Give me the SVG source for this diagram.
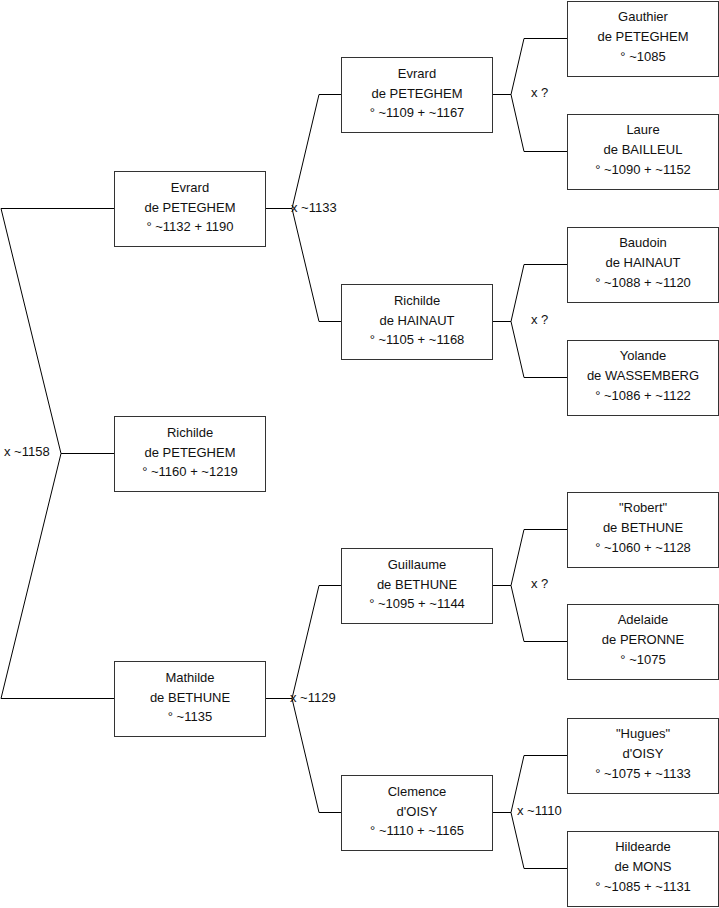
<svg xmlns="http://www.w3.org/2000/svg" width="719" height="908" viewBox="0 0 719 908">
<style>
.box{fill:#fff;stroke:#333;stroke-width:1}
.t{font-family:"Liberation Sans",Arial,sans-serif;font-size:13px;fill:#111;text-anchor:middle}
.l{font-family:"Liberation Sans",Arial,sans-serif;font-size:13px;fill:#111}
.c{fill:none;stroke:#000;stroke-width:1}
</style>
<rect width="719" height="908" fill="#fff"/>
<g id="connectors">
<polyline class="c" points="114,208.5 1,208.5 61,453.5 1,698.5 114,698.5"/>
<line class="c" x1="61" y1="453.5" x2="114" y2="453.5"/>
<polyline class="c" points="265,208.5 292,208.5"/>
<polyline class="c" points="341,94.5 319,94.5 292,208.5 319,321.5 341,321.5"/>
<polyline class="c" points="265,698.5 292,698.5"/>
<polyline class="c" points="341,585.5 319,585.5 292,698.5 319,812.5 341,812.5"/>
<polyline class="c" points="492,94.5 511,94.5"/>
<polyline class="c" points="567,38.5 524,38.5 511,94.5 524,151.5 567,151.5"/>
<polyline class="c" points="492,321.5 511,321.5"/>
<polyline class="c" points="567,264.5 524,264.5 511,321.5 524,377.5 567,377.5"/>
<polyline class="c" points="492,585.5 511,585.5"/>
<polyline class="c" points="567,529.5 524,529.5 511,585.5 524,641.5 567,641.5"/>
<polyline class="c" points="492,812.5 511,812.5"/>
<polyline class="c" points="567,755.5 524,755.5 511,812.5 524,868.5 567,868.5"/>
<text class="l" x="4" y="456">x ~1158</text>
<text class="l" x="291" y="212">x ~1133</text>
<text class="l" x="290" y="702">x ~1129</text>
<text class="l" x="531" y="97">x ?</text>
<text class="l" x="531" y="324">x ?</text>
<text class="l" x="531" y="588">x ?</text>
<text class="l" x="517" y="815">x ~1110</text>
</g>
<g id="n-evrard1">
<rect class="box" x="114.5" y="171.5" width="151" height="75"/>
<text class="t" x="190" y="191.5">Evrard</text><text class="t" x="190" y="211.5">de PETEGHEM</text><text class="t" x="190" y="230.5">° ~1132 + 1190</text>
</g>
<g id="n-richilde1">
<rect class="box" x="114.5" y="416.5" width="151" height="75"/>
<text class="t" x="190" y="436.5">Richilde</text><text class="t" x="190" y="456.5">de PETEGHEM</text><text class="t" x="190" y="475.5">° ~1160 + ~1219</text>
</g>
<g id="n-mathilde">
<rect class="box" x="114.5" y="661.5" width="151" height="75"/>
<text class="t" x="190" y="681.5">Mathilde</text><text class="t" x="190" y="701.5">de BETHUNE</text><text class="t" x="190" y="720.5">° ~1135</text>
</g>
<g id="n-evrard2">
<rect class="box" x="341.5" y="57.5" width="151" height="75"/>
<text class="t" x="417" y="77.5">Evrard</text><text class="t" x="417" y="97.5">de PETEGHEM</text><text class="t" x="417" y="116.5">° ~1109 + ~1167</text>
</g>
<g id="n-richilde2">
<rect class="box" x="341.5" y="284.5" width="151" height="75"/>
<text class="t" x="417" y="304.5">Richilde</text><text class="t" x="417" y="324.5">de HAINAUT</text><text class="t" x="417" y="343.5">° ~1105 + ~1168</text>
</g>
<g id="n-guillaume">
<rect class="box" x="341.5" y="548.5" width="151" height="75"/>
<text class="t" x="417" y="568.5">Guillaume</text><text class="t" x="417" y="588.5">de BETHUNE</text><text class="t" x="417" y="607.5">° ~1095 + ~1144</text>
</g>
<g id="n-clemence">
<rect class="box" x="341.5" y="775.5" width="151" height="75"/>
<text class="t" x="417" y="795.5">Clemence</text><text class="t" x="417" y="815.5">d'OISY</text><text class="t" x="417" y="834.5">° ~1110 + ~1165</text>
</g>
<g id="n-gauthier">
<rect class="box" x="567.5" y="1.5" width="151" height="75"/>
<text class="t" x="643" y="21">Gauthier</text><text class="t" x="643" y="41">de PETEGHEM</text><text class="t" x="643" y="60.5">° ~1085</text>
</g>
<g id="n-laure">
<rect class="box" x="567.5" y="114.5" width="151" height="75"/>
<text class="t" x="643" y="134">Laure</text><text class="t" x="643" y="154">de BAILLEUL</text><text class="t" x="643" y="173.5">° ~1090 + ~1152</text>
</g>
<g id="n-baudoin">
<rect class="box" x="567.5" y="227.5" width="151" height="75"/>
<text class="t" x="643" y="247">Baudoin</text><text class="t" x="643" y="267">de HAINAUT</text><text class="t" x="643" y="286.5">° ~1088 + ~1120</text>
</g>
<g id="n-yolande">
<rect class="box" x="567.5" y="340.5" width="151" height="75"/>
<text class="t" x="643" y="360">Yolande</text><text class="t" x="643" y="380">de WASSEMBERG</text><text class="t" x="643" y="399.5">° ~1086 + ~1122</text>
</g>
<g id="n-robert">
<rect class="box" x="567.5" y="492.5" width="151" height="75"/>
<text class="t" x="643" y="512">"Robert"</text><text class="t" x="643" y="532">de BETHUNE</text><text class="t" x="643" y="551.5">° ~1060 + ~1128</text>
</g>
<g id="n-adelaide">
<rect class="box" x="567.5" y="604.5" width="151" height="75"/>
<text class="t" x="643" y="624">Adelaide</text><text class="t" x="643" y="644">de PERONNE</text><text class="t" x="643" y="663.5">° ~1075</text>
</g>
<g id="n-hugues">
<rect class="box" x="567.5" y="718.5" width="151" height="75"/>
<text class="t" x="643" y="738">"Hugues"</text><text class="t" x="643" y="758">d'OISY</text><text class="t" x="643" y="777.5">° ~1075 + ~1133</text>
</g>
<g id="n-hildearde">
<rect class="box" x="567.5" y="831.5" width="151" height="75"/>
<text class="t" x="643" y="851">Hildearde</text><text class="t" x="643" y="871">de MONS</text><text class="t" x="643" y="890.5">° ~1085 + ~1131</text>
</g>
</svg>
